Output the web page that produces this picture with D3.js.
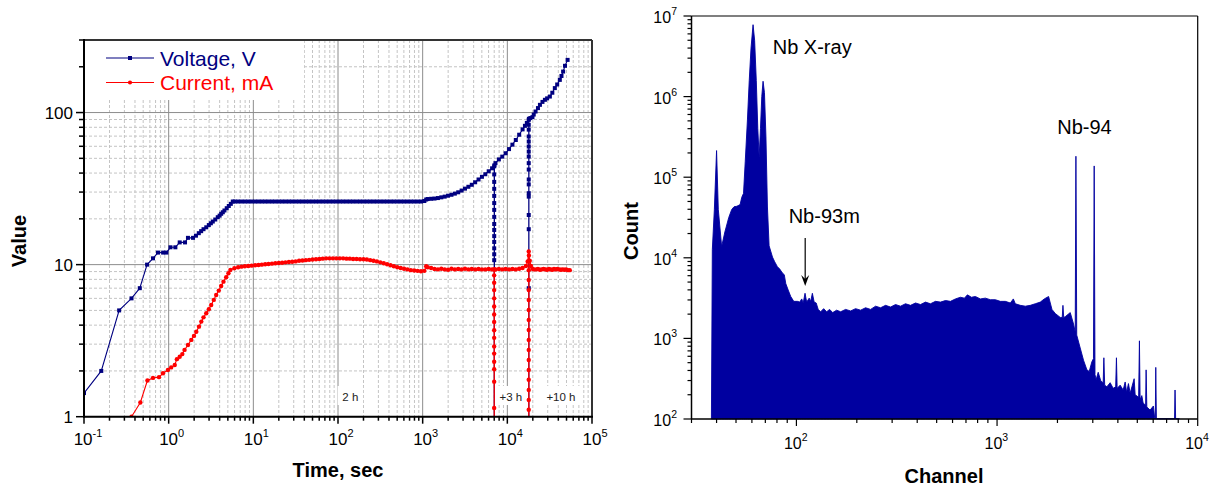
<!DOCTYPE html>
<html><head><meta charset="utf-8">
<script src="https://cdn.jsdelivr.net/npm/d3@7"></script>
<style>body{margin:0;background:#fff} svg{display:block} text{font-family:"Liberation Sans",Arial,Helvetica,sans-serif}</style>
</head><body><svg id="c" width="1211" height="487"></svg>
<script>
// ---------------- DATA ----------------
// Left chart: [time s, value]
const voltage = [
[0.1,1.43],[0.16,2.0],[0.26,5.0],[0.364,6.0],[0.456,7.0],[0.556,10.0],[0.653,11.0],[0.748,12.0],[0.86,12.0],[0.94,12.0],
[1.05,13.0],[1.2,13.0],[1.35,14.0],[1.56,14.0],[1.69,15.0],[1.94,15.0],[2.1,15.5],[2.27,16.1],[2.42,16.6],[2.58,17.1],
[2.78,17.6],[2.98,18.2],[3.15,18.7],[3.32,19.2],[3.55,19.8],[3.8,20.5],[4.0,21.0],[4.17,21.6],[4.36,22.1],[4.56,22.7],
[4.85,23.5],[5.13,24.3],[5.42,25.1],[5.72,26.0],
[6.03,26],[6.61,26],[7.24,26],[7.94,26],[8.71,26],[9.55,26],[10.5,26],[11.5,26],[12.6,26],[13.8,26],[15.1,26],[16.6,26],
[18.2,26],[20,26],[21.9,26],[24,26],[26.3,26],[28.8,26],[31.6,26],[34.7,26],[38,26],[41.7,26],[45.7,26],[50.1,26],[55,26],
[60.3,26],[66.1,26],[72.4,26],[79.4,26],[87.1,26],[95.5,26],[105,26],[115,26],[126,26],[138,26],[151,26],[166,26],[182,26],
[200,26],[219,26],[240,26],[263,26],[288,26],[316,26],[347,26],[380,26],[417,26],[457,26],[501,26],[550,26],[603,26],
[661,26],[724,26],[794,26],[871,26],[955,26],[1047,26.2],[1100,26.8],[1148,27],[1259,27.1],[1380,27.2],[1514,27.4],
[1660,27.7],[1820,28.0],[1995,28.4],[2188,28.8],[2399,29.3],[2630,29.9],[2884,30.7],[3162,31.6],[3467,32.5],[3802,33.5],
[4169,34.8],[4571,36.3],[5012,37.8],[5495,39.3],[6026,41.1],[6607,43.0],
[7000,44.3],[7000,39.2],[7000,35.0],[7000,31.5],[7000,28.3],[7000,25.4],[7000,22.9],[7000,20.6],[7000,18.5],[7000,16.9],
[7000,15.4],[7000,14.1],[7000,12.8],[7000,11.7],[7000,10.7],[7000,0.5],[7040,0.5],[7040,45.0],
[7244,46.5],[7943,49.2],[8710,51.3],[9550,54],[10470,57.5],[11480,61.5],[12590,66],[13800,71.5],[15140,77.5],[16140,81.8],
[17000,85.5],[17900,89.5],[17900,83.1],[17900,77.2],[17900,69.6],[17900,64.5],[17900,59.8],[17900,55.4],[17900,51.4],
[17900,46.5],[17900,42.2],[17900,36.3],[17900,33.7],[17900,29.5],[17900,28.0],[17900,21.2],[17900,17.1],[17900,7.0],
[17900,0.5],[17990,0.5],[17990,91],
[18700,92],[19800,93.3],[20500,97],[21550,101.6],[23000,107],[24270,112.4],[26000,117.5],[27790,121.3],[29500,124],
[31790,127.4],[34000,135],[36390,144.8],[38800,153],[41690,164],[43600,174],[45600,186],[48000,203],[51500,222]
];
const current = [
[0.364,1.0],[0.463,1.24],[0.561,1.73],[0.653,1.8],[0.769,1.82],[0.857,1.93],[0.98,2.03],[1.07,2.11],[1.18,2.19],[1.25,2.39],
[1.35,2.48],[1.45,2.58],[1.54,2.75],[1.69,2.96],[1.85,3.2],[1.99,3.4],[2.12,3.62],[2.28,3.91],[2.43,4.22],[2.58,4.5],
[2.78,4.79],[2.98,5.09],[3.18,5.43],[3.41,5.86],[3.64,6.32],[3.91,6.75],[4.17,7.24],[4.44,7.73],[4.78,8.26],[5.08,8.78],
[5.36,9.23],[5.97,9.47],
[6.61,9.6],[7.24,9.7],[7.94,9.75],[8.71,9.8],[9.55,9.85],[10.5,9.9],[11.5,9.95],[12.6,10],[13.8,10.05],[15.1,10.1],
[16.6,10.15],[18.2,10.2],[20,10.25],[21.9,10.3],[24,10.35],[26.3,10.4],[28.8,10.45],[31.6,10.5],[34.7,10.6],[38,10.65],
[41.7,10.7],[45.7,10.75],[50.1,10.8],[55,10.85],[60.3,10.9],[66.1,10.95],[72.4,11],[79.4,11],[87.1,11],[95.5,11],[105,11],
[115,11],[126,10.95],[138,10.95],[151,10.9],[166,10.9],[182,10.85],[200,10.85],[219,10.8],[240,10.7],[263,10.6],[288,10.5],
[316,10.35],[347,10.2],[380,10.05],[417,9.9],[457,9.75],[501,9.6],[550,9.5],[603,9.4],[661,9.3],[724,9.2],[794,9.15],
[871,9.1],[955,9.05],[1047,9.1],[1100,9.75],[1148,9.6],[1259,9.5],[1380,9.35],[1514,9.3],[1660,9.4],[1820,9.3],[1995,9.25],
[2188,9.4],[2399,9.3],[2630,9.35],[2884,9.3],[3162,9.4],[3467,9.3],[3802,9.35],[4169,9.3],[4571,9.35],[5012,9.3],[5495,9.3],
[6026,9.35],[6607,9.3],
[6990,9.3],[6990,8.5],[6990,7.6],[6990,6.8],[6990,6.0],[6990,5.3],[6990,4.7],[6990,4.2],[6990,3.7],[6990,3.3],[6990,2.9],
[6990,2.6],[6990,2.3],[6990,2.05],[6990,1.7],[6990,1.14],[6990,0.3],[7020,0.3],[7020,9.3],
[7244,9.3],[7943,9.35],[8710,9.3],[9550,9.35],[10470,9.3],[11480,9.35],[12590,9.3],[13800,9.4],[15140,9.5],[16600,9.8],
[17400,10.5],[17900,12.2],[17900,10.5],[17900,9.2],[17900,7.93],[17900,6.8],[17900,5.85],[17900,5.03],[17900,4.33],
[17900,3.72],[17900,3.2],[17900,2.75],[17900,2.36],[17900,2.03],[17900,1.75],[17900,1.5],[17900,1.29],[17900,1.11],
[17900,0.3],[17980,0.3],[17980,11.5],
[18400,10.6],[19000,9.8],[19800,9.4],[20500,9.3],[21880,9.3],[23000,9.35],[24270,9.25],[25500,9.3],[26800,9.35],[28200,9.3],
[29500,9.25],[31000,9.35],[32500,9.3],[34000,9.25],[35600,9.35],[37300,9.3],[39000,9.35],[41000,9.3],[43000,9.25],
[45000,9.3],[47200,9.25],[49500,9.3],[52000,9.2],[54600,9.2]
];
const seriesNames = ["Voltage, V","Current, mA"];
const leftXTicks = [0.1,1,10,100,1000,10000,100000];
const leftXExp = ["-1","0","1","2","3","4","5"];
const leftYTicks = [1,10,100];
const leftYLabels = ["1","10","100"];
const timeNotes = [{t:140,label:"2 h"},{t:11000,label:"+3 h"},{t:43000,label:"+10 h"}];

// Right chart: [channel, count]
const spectrum = [
[37.7,100],[38.1,12600],[39.0,40000],[40.0,214000],[40.8,40000],[42.4,13800],[44.0,20900],[46.0,31600],[47.6,39800],
[48.9,43000],[50.5,43600],[52.4,45700],[53.4,56200],[54.5,63000],[55.6,158000],[57.0,513000],[58.2,1580000],[59.4,4000000],
[60.8,7800000],[61.9,5000000],[63.1,1580000],[64.2,400000],[65.2,178000],[66.2,400000],[67.2,1000000],[68.2,1550000],
[69.3,1120000],[70.5,316000],[71.7,42700],[73.1,14100],[76.0,10200],[78.0,8900],[80.4,7760],[82.6,7240],[85.2,6460],
[87.0,6170],[88.5,4790],[91.0,3980],[93.7,3310],[97.0,2880],[101.2,2880],[103.9,2820],[106.3,3090],[108.1,2750],[110.4,3630],
[112.5,2820],[115.8,3160],[117.8,2880],[120.1,3630],[122.6,2820],[125.5,2750],[128.4,2290],[132.1,2140],[136.7,2340],
[141.5,2140],[146.4,2290],[151.6,2090],[158.7,2240],[166.1,2140],[175.9,2290],[186.3,2190],[197.2,2340],[208.9,2240],
[221.2,2400],[234.3,2290],[248.1,2510],[262.7,2400],[278.2,2570],[294.6,2450],[311.9,2630],[330.3,2510],[349.8,2690],
[370.4,2570],[392.3,2750],[415.4,2630],[439.9,2820],[465.8,2690],[493.3,2880],[522.4,2820],[553.2,2950],[585.8,2880],
[620.3,3090],[656.9,3240],[687.7,3160],[711.7,3470],[745.1,3240],[779.8,3310],[825.8,3090],[874.5,3160],[926.1,3020],
[980.6,3020],[1038.5,2880],[1099.8,2880],[1164.6,2750],[1205.5,3090],[1233.4,2690],[1306.1,2570],[1383.1,2510],
[1464.6,2570],[1550.6,2690],[1642.4,2820],[1719.6,3090],[1806.3,3310],[1877.9,2290],[1949.8,2040],[2064.9,1820],
[2113,1820],[2130,2570],[2149,1820],[2187,1860],[2316,2090],[2405,1510],[2452,1200],[2472,182000],[2495,1100],[2597,760],
[2697,537],[2804,407],[2879,389],[2969,513],[3024,562],[3049,138000],[3077,355],[3119,309],[3192,380],[3292,295],[3380,282],
[3407,575],[3439,263],[3526,251],[3662,282],[3790,240],[3901,251],[3936,575],[3968,240],[4107,263],[4251,229],[4350,288],
[4425,214],[4517,275],[4606,209],[4822,316],[4878,200],[5077,186],[5124,933],[5164,174],[5266,195],[5345,158],[5500,148],
[5532,407],[5577,141],[5791,129],[6014,145],[6098,105],[6147,100],[6181,437],[6224,101],[7666,101],[7710,229],[7763,101],
[8099,101]
];
const rightXTicks = [100,1000,10000];
const rightXExp = ["2","3","4"];
const rightYTicks = [100,1000,10000,100000,1000000,10000000];
const rightYExp = ["2","3","4","5","6","7"];
const peakNotes = [{c:76.2,n:3.38e6,label:"Nb X-ray"},{c:91.5,n:2.7e4,label:"Nb-93m"},{c:1995,n:3.43e5,label:"Nb-94"}];
const arrowAt = {c:110.6,from:1.76e4,to:4.47e3};

// ---------------- DRAW ----------------
const svg = d3.select("#c");
const NAVY="#000080", RED="#ff0000", FILL="#0000a0";
const isMajor = v => Math.abs(Math.log10(v)-Math.round(Math.log10(v)))<1e-9;

// ===== LEFT CHART =====
const xL = d3.scaleLog().domain([0.1,1e5]).range([84,592]);
const yL = d3.scaleLog().domain([1,300]).range([416.7,40]);
const L = svg.append("g");
const [lx0,lx1] = xL.range(), [ly0,ly1] = yL.range();

const gx = xL.ticks(), gy = yL.ticks();
L.append("g").selectAll("line").data(gx.filter(v=>!isMajor(v))).join("line")
 .attr("x1",d=>xL(d)).attr("x2",d=>xL(d)).attr("y1",ly1).attr("y2",ly0)
 .attr("stroke","#c4c4c4").attr("stroke-dasharray","3,2").attr("stroke-width",1);
L.append("g").selectAll("line").data(gy.filter(v=>!isMajor(v))).join("line")
 .attr("y1",d=>yL(d)).attr("y2",d=>yL(d)).attr("x1",lx0).attr("x2",lx1)
 .attr("stroke","#c4c4c4").attr("stroke-dasharray","3,2").attr("stroke-width",1);
L.append("g").selectAll("line").data(gx.filter(isMajor)).join("line")
 .attr("x1",d=>xL(d)).attr("x2",d=>xL(d)).attr("y1",ly1).attr("y2",ly0)
 .attr("stroke","#8c8c8c").attr("stroke-width",1);
L.append("g").selectAll("line").data(gy.filter(isMajor)).join("line")
 .attr("y1",d=>yL(d)).attr("y2",d=>yL(d)).attr("x1",lx0).attr("x2",lx1)
 .attr("stroke","#8c8c8c").attr("stroke-width",1);

// legend background
L.append("rect").attr("x",lx0+1).attr("y",ly1+1).attr("width",219).attr("height",59).attr("fill","#fff");

// annotation boxes
timeNotes.forEach(n=>{
  const w = n.label.length*6.5+6;
  L.append("rect").attr("x",xL(n.t)-w/2).attr("y",386).attr("width",w).attr("height",19).attr("fill","#fff");
});

// data
L.append("clipPath").attr("id","clipL").append("rect").attr("x",lx0).attr("y",ly1).attr("width",lx1-lx0).attr("height",ly0-ly1);
const D = L.append("g").attr("clip-path","url(#clipL)");
const line = d3.line().x(d=>xL(d[0])).y(d=>yL(Math.max(d[1],0.2)));
D.append("path").datum(voltage).attr("d",line).attr("fill","none").attr("stroke",NAVY).attr("stroke-width",1.1);
D.append("g").selectAll("rect").data(voltage).join("rect")
 .attr("x",d=>xL(d[0])-2).attr("y",d=>yL(Math.max(d[1],0.2))-2).attr("width",4).attr("height",4).attr("fill",NAVY);
D.append("path").datum(current).attr("d",line).attr("fill","none").attr("stroke",RED).attr("stroke-width",1.1);
D.append("g").selectAll("circle").data(current).join("circle")
 .attr("cx",d=>xL(d[0])).attr("cy",d=>yL(Math.max(d[1],0.2))).attr("r",2.2).attr("fill",RED);

// annotation texts
timeNotes.forEach(n=>{
  L.append("text").attr("x",xL(n.t)).attr("y",401).attr("text-anchor","middle")
   .attr("font-size",11.5).attr("fill","#222").text(n.label);
});

// frame
L.append("line").attr("x1",lx0).attr("x2",lx1).attr("y1",ly1).attr("y2",ly1).attr("stroke","#333").attr("stroke-width",2);
L.append("line").attr("x1",lx1).attr("x2",lx1).attr("y1",ly1).attr("y2",ly0).attr("stroke","#333").attr("stroke-width",2);
L.append("line").attr("x1",lx0).attr("x2",lx0).attr("y1",ly1-1).attr("y2",ly0+1).attr("stroke","#000").attr("stroke-width",2);
L.append("line").attr("x1",lx0-1).attr("x2",lx1+1).attr("y1",ly0).attr("y2",ly0).attr("stroke","#000").attr("stroke-width",2);
L.append("g").selectAll("line").data(gy).join("line")
 .attr("x1",d=>lx0-(isMajor(d)?8:5)).attr("x2",lx0).attr("y1",d=>yL(d)).attr("y2",d=>yL(d))
 .attr("stroke","#000").attr("stroke-width",1.5);
L.append("g").selectAll("line").data(gx).join("line")
 .attr("x1",d=>xL(d)).attr("x2",d=>xL(d)).attr("y1",ly0).attr("y2",d=>ly0+(isMajor(d)?7:4))
 .attr("stroke","#000").attr("stroke-width",1.5);
leftYTicks.forEach((v,i)=>{
  L.append("text").attr("x",lx0-11).attr("y",yL(v)+6).attr("text-anchor","end").attr("font-size",17).text(leftYLabels[i]);
});
leftXTicks.forEach((v,i)=>{
  const t = L.append("text").attr("x",xL(v)+(leftXExp[i].length>1?4:3)).attr("y",445).attr("text-anchor","middle").attr("font-size",17);
  t.append("tspan").text("10");
  t.append("tspan").attr("dy",-8).attr("font-size",11).text(leftXExp[i]);
});
L.append("text").attr("x",338).attr("y",477).attr("text-anchor","middle").attr("font-size",20).attr("font-weight","bold").text("Time, sec");
L.append("text").attr("transform","translate(26,241) rotate(-90)").attr("text-anchor","middle").attr("font-size",20).attr("font-weight","bold").text("Value");

const legCols=[NAVY,RED];
seriesNames.forEach((s,i)=>{
  const yy = 58+i*24.5;
  L.append("line").attr("x1",106).attr("x2",154).attr("y1",yy).attr("y2",yy).attr("stroke",legCols[i]).attr("stroke-width",1.2);
  if(i===0) L.append("rect").attr("x",128).attr("y",yy-2).attr("width",4).attr("height",4).attr("fill",NAVY);
  else L.append("circle").attr("cx",130).attr("cy",yy).attr("r",2.1).attr("fill",RED);
  L.append("text").attr("x",160).attr("y",yy+7.5).attr("font-size",21).attr("fill",legCols[i]).text(s);
});

// ===== RIGHT CHART =====
const xR = d3.scaleLog().domain([30,1e4]).range([691.5,1197.7]);
const yR = d3.scaleLog().domain([100,1e7]).range([419,16]);
const R = svg.append("g");
const [rx0,rx1] = xR.range(), [ry0,ry1] = yR.range();
const area = d3.area().x(d=>xR(d[0])).y0(ry0).y1(d=>yR(d[1]));
R.append("path").datum(spectrum).attr("d",area).attr("fill",FILL).attr("stroke",FILL).attr("stroke-width",0.9).attr("stroke-linejoin","round");

R.append("line").attr("x1",rx0).attr("x2",rx1).attr("y1",ry1).attr("y2",ry1).attr("stroke","#000").attr("stroke-width",1.2);
R.append("line").attr("x1",rx1).attr("x2",rx1).attr("y1",ry1).attr("y2",ry0).attr("stroke","#000").attr("stroke-width",1.2);
R.append("line").attr("x1",rx0).attr("x2",rx0).attr("y1",ry1).attr("y2",ry0).attr("stroke","#000").attr("stroke-width",1.5);
R.append("line").attr("x1",rx0).attr("x2",rx1).attr("y1",ry0).attr("y2",ry0).attr("stroke","#000").attr("stroke-width",1.5);
R.append("g").selectAll("line").data(yR.ticks()).join("line")
 .attr("x1",d=>rx0-(isMajor(d)?8:4)).attr("x2",rx0).attr("y1",d=>yR(d)).attr("y2",d=>yR(d))
 .attr("stroke","#000").attr("stroke-width",1.2);
R.append("g").selectAll("line").data(xR.ticks()).join("line")
 .attr("x1",d=>xR(d)).attr("x2",d=>xR(d)).attr("y1",ry0).attr("y2",d=>ry0+(isMajor(d)?7:4))
 .attr("stroke","#000").attr("stroke-width",1.2);
rightYTicks.forEach((v,i)=>{
  const t = R.append("text").attr("x",677).attr("y",yR(v)+7).attr("text-anchor","end").attr("font-size",16);
  t.append("tspan").text("10");
  t.append("tspan").attr("dy",-8).attr("font-size",10.5).text(rightYExp[i]);
});
rightXTicks.forEach((v,i)=>{
  const t = R.append("text").attr("x",xR(v)-12.5).attr("y",449).attr("text-anchor","start").attr("font-size",16);
  t.append("tspan").text("10");
  t.append("tspan").attr("dy",-8).attr("font-size",10.5).text(rightXExp[i]);
});
R.append("text").attr("x",944).attr("y",483).attr("text-anchor","middle").attr("font-size",20).attr("font-weight","bold").text("Channel");
R.append("text").attr("transform","translate(638,231) rotate(-90)").attr("text-anchor","middle").attr("font-size",20).attr("font-weight","bold").text("Count");

peakNotes.forEach(p=>{
  R.append("text").attr("x",xR(p.c)).attr("y",yR(p.n)).attr("font-size",20).attr("fill","#000").text(p.label);
});
const ax = xR(arrowAt.c), ay0 = yR(arrowAt.from), ay1 = yR(arrowAt.to);
R.append("line").attr("x1",ax).attr("x2",ax).attr("y1",ay0).attr("y2",ay1-3).attr("stroke","#000").attr("stroke-width",1.2);
R.append("path").attr("d",`M${ax-4},${ay1-11} L${ax},${ay1} L${ax+4},${ay1-11} L${ax},${ay1-7} Z`).attr("fill","#000");
</script></body></html>
